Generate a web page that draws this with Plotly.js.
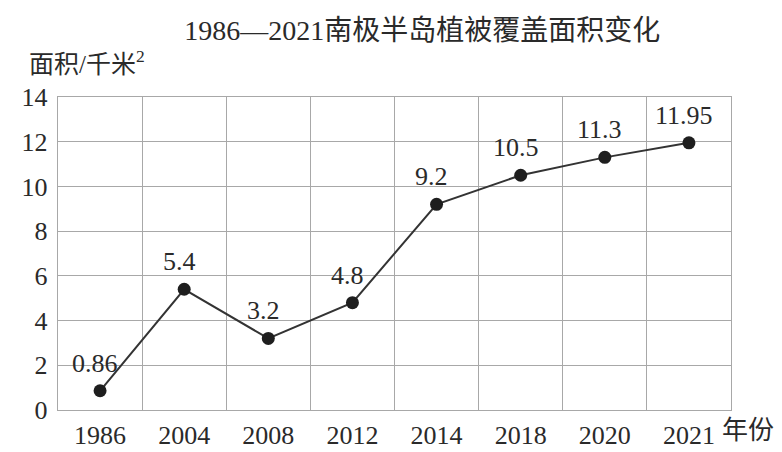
<!DOCTYPE html>
<html>
<head>
<meta charset="utf-8">
<script src="https://cdn.plot.ly/plotly-3.0.1.min.js"></script>
<style>
  html, body { margin: 0; padding: 0; background: #fff; }
  #chart { width: 782px; height: 452px; }
</style>
</head>
<body>
<div id="chart"></div>
<script>
// 1986—2021 南极半岛植被覆盖面积 (千米²)
const years = ["1986", "2004", "2008", "2012", "2014", "2018", "2020", "2021"];
const area = [0.86, 5.4, 3.2, 4.8, 9.2, 10.5, 11.3, 11.95];
const areaLabels = ["0.86", "5.4", "3.2", "4.8", "9.2", "10.5", "11.3", "11.95"];
const yTicks = [0, 2, 4, 6, 8, 10, 12, 14];

const FONT = '"Liberation Serif", "Times New Roman", "Noto Sans CJK SC", serif';
const INK = "#2a2a2a";
const GRID = "#a8a8a8";

const traces = [
  {
    x: years,
    y: area,
    type: "scatter",
    mode: "lines+markers",
    line: { color: "#333", width: 2 },
    marker: { color: "#1e1e1e", size: 13 },
    cliponaxis: false,
    hoverinfo: "skip",
  },
];

// value labels above each point (category axis -> annotation x is the index)
const valueNotes = years.map((yr, i) => ({
  x: i,
  y: area[i],
  xref: "x",
  yref: "y",
  text: areaLabels[i],
  showarrow: false,
  xanchor: "center",
  yanchor: "bottom",
  xshift: -5,
  yshift: 11,
  font: { family: FONT, size: 26, color: INK },
}));

const layout = {
  width: 782,
  height: 452,
  paper_bgcolor: "#fff",
  plot_bgcolor: "#fff",
  margin: { l: 58, r: 51, t: 97, b: 42 },
  font: { family: FONT, size: 26, color: INK },
  showlegend: false,
  title: {
    text: "1986—2021南极半岛植被覆盖面积变化",
    font: { family: FONT, size: 28, color: INK },
    xref: "container",
    x: 0.54,
    xanchor: "center",
    yref: "container",
    y: 0.934,
    yanchor: "middle",
  },
  xaxis: {
    type: "category",
    range: [-0.5, 7.5],
    tickson: "boundaries",
    ticks: "",
    showgrid: true,
    gridcolor: GRID,
    gridwidth: 1.2,
    showline: true,
    mirror: true,
    linecolor: GRID,
    linewidth: 1.2,
    tickfont: { family: FONT, size: 26, color: INK },
    ticklabelstandoff: 2,
    fixedrange: true,
  },
  yaxis: {
    range: [0, 14],
    tickvals: yTicks,
    ticks: "",
    showgrid: true,
    gridcolor: GRID,
    gridwidth: 1.2,
    zeroline: false,
    showline: true,
    mirror: true,
    linecolor: GRID,
    linewidth: 1.2,
    tickfont: { family: FONT, size: 26, color: INK },
    ticklabelstandoff: 4,
    fixedrange: true,
  },
  annotations: [
    ...valueNotes,
    {
      text: "面积/千米<sup>2</sup>",
      xref: "paper",
      yref: "paper",
      x: -0.046,
      y: 1.112,
      xanchor: "left",
      yanchor: "middle",
      showarrow: false,
      font: { family: FONT, size: 25, color: INK },
    },
    {
      text: "年份",
      xref: "paper",
      yref: "paper",
      x: 0.984,
      y: -0.066,
      xanchor: "left",
      yanchor: "middle",
      showarrow: false,
      font: { family: FONT, size: 26, color: INK },
    },
  ],
};

Plotly.newPlot("chart", traces, layout, { displayModeBar: false, staticPlot: true });
</script>
</body>
</html>
